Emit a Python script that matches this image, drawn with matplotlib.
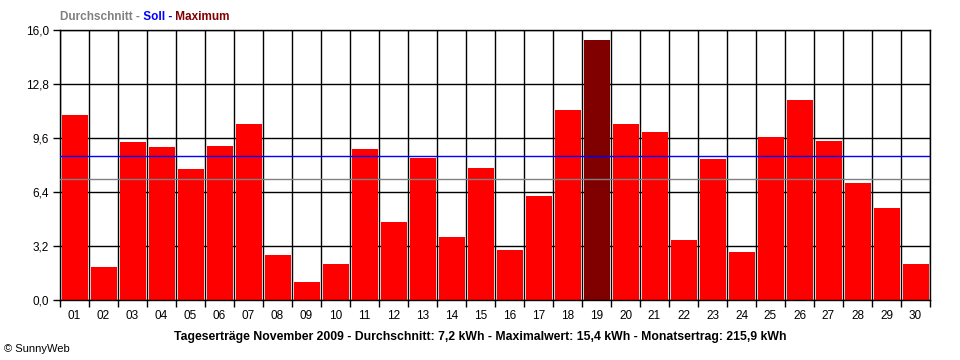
import matplotlib
matplotlib.use("Agg")
import matplotlib.pyplot as plt
import numpy as np

# daily yields, November 2009 (kWh)
days = ["%02d" % d for d in range(1, 31)]
ertrag = [10.98, 1.97, 9.38, 9.08, 7.78, 9.14, 10.45, 2.68, 1.08, 2.15,
          8.97, 4.64, 8.43, 3.75, 7.84, 2.98, 6.18, 11.28, 15.4, 10.45,
          9.97, 3.57, 8.37, 2.86, 9.68, 11.87, 9.44, 6.95, 5.47, 2.15]
durchschnitt = 7.2
soll = 8.53
yticks = [0.0, 3.2, 6.4, 9.6, 12.8, 16.0]
ytick_labels = ["0,0", "3,2", "6,4", "9,6", "12,8", "16,0"]

plt.rcParams['font.family'] = ['Liberation Sans', 'DejaVu Sans']

fig = plt.figure(figsize=(9.6, 3.6), dpi=100)
ax = fig.add_axes([60/960, 60/360, 870/960, 270/360])

x = np.arange(len(days))
imax = int(np.argmax(ertrag))
colors = ["#ff0000"] * len(days)
colors[imax] = "#800000"
ax.bar(x + 0.02, ertrag, width=0.9, color=colors, zorder=2)

# reference lines
ax.axhline(soll, color="#0000ff", lw=1.0, zorder=3)
ax.axhline(durchschnitt, color="#808080", lw=1.0, zorder=3)

ax.set_xlim(-0.5, len(days) - 0.5)
ax.set_ylim(0, 16)

# grid: horizontal at ticks, vertical at bar boundaries
for yv in yticks:
    ax.axhline(yv, color="black", lw=1.0, zorder=1)
for b in np.arange(-0.5, len(days), 1.0):
    ax.axvline(b, color="black", lw=1.0, zorder=1)

ax.set_yticks(yticks)
ax.set_yticklabels(ytick_labels, fontsize=8.5)
ax.set_xticks(np.arange(-0.5, len(days), 1.0))
ax.set_xticklabels([])
ax.set_xticks(x, minor=True)
ax.set_xticklabels(days, minor=True, fontsize=8.5)
ax.tick_params(axis="x", which="major", length=5, width=1, direction="out")
ax.tick_params(axis="x", which="minor", length=0, pad=7)
ax.tick_params(axis="y", length=5, width=1, pad=3)
for s in ax.spines.values():
    s.set_color("black")
    s.set_linewidth(1.0)

# legend-like title in three colours
renderer = fig.canvas.get_renderer()
parts = [("Durchschnitt -", "#808080"), (" Soll -", "#0000ff"),
         (" Maximum", "#800000")]
xpos = 60 / 960
for txt, col in parts:
    t = fig.text(xpos, 1 - 17/360, txt, color=col, fontsize=8.5, fontweight="bold",
                 va="center", ha="left")
    bb = t.get_window_extent(renderer)
    xpos += bb.width / 960

fig.text(480/960, 1 - 337/360,
         "Tageserträge November 2009 - Durchschnitt: 7,2 kWh - Maximalwert: 15,4 kWh - Monatsertrag: 215,9 kWh",
         fontsize=8.8, fontweight="bold", ha="center", va="center")
fig.text(4/960, 1 - 349/360, "© SunnyWeb", fontsize=8, ha="left", va="center")

fig.savefig("out.png", dpi=100)
